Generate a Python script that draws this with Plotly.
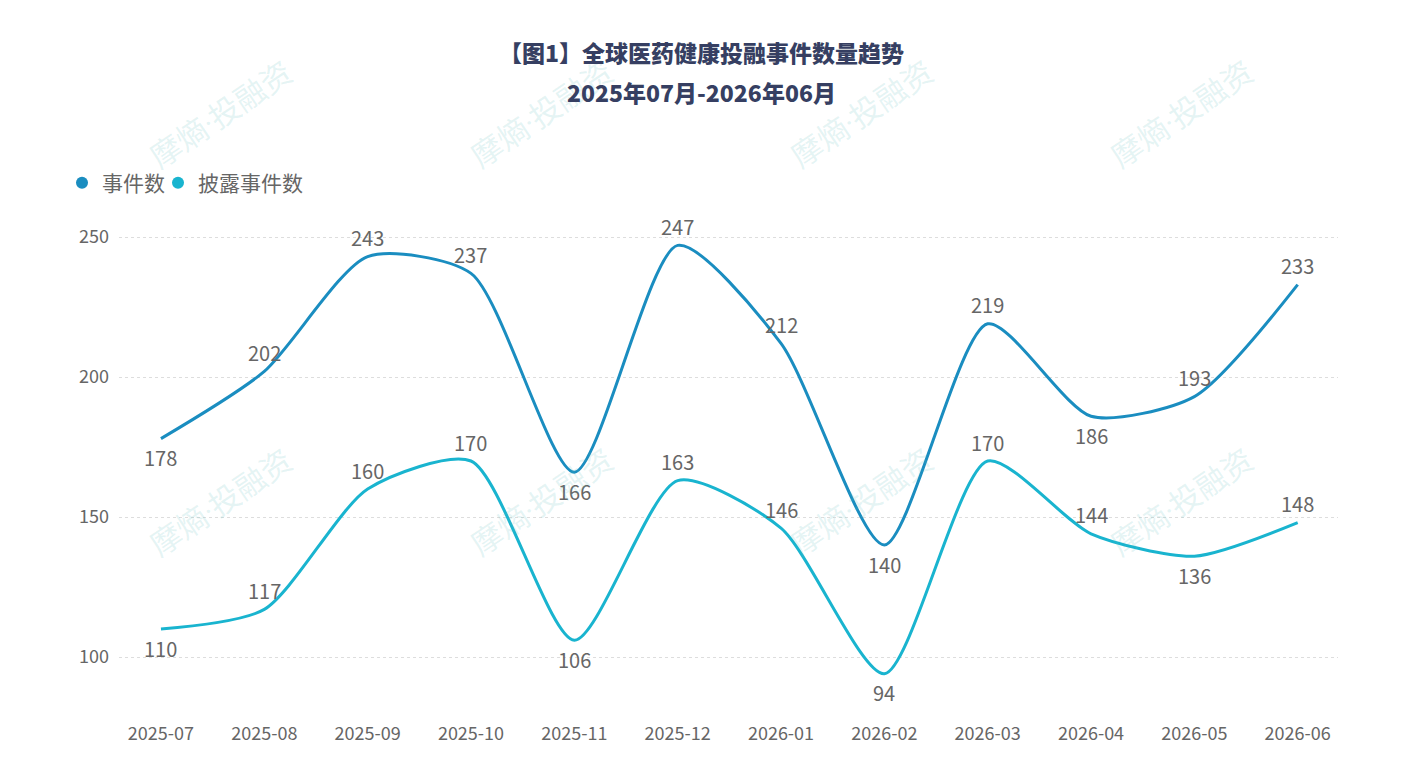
import plotly.graph_objects as go

months = ["2025-07", "2025-08", "2025-09", "2025-10", "2025-11", "2025-12",
          "2026-01", "2026-02", "2026-03", "2026-04", "2026-05", "2026-06"]
events = [178, 202, 243, 237, 166, 247, 212, 140, 219, 186, 193, 233]
disclosed = [110, 117, 160, 170, 106, 163, 146, 94, 170, 144, 136, 148]
events_label_pos = ["b", "t", "t", "t", "b", "t", "t", "b", "t", "b", "t", "t"]
disclosed_label_pos = ["b", "t", "t", "t", "b", "t", "t", "b", "t", "t", "b", "t"]
y_ticks = [100, 150, 200, 250]

C1 = "#1a8dc0"
C2 = "#19b4cf"
LABEL = "#666666"
FONT = "Noto Sans CJK SC, Noto Sans, sans-serif"

xs = list(range(len(months)))

fig = go.Figure()
fig.add_trace(go.Scatter(x=xs, y=events, mode="lines", name="事件数",
                         line=dict(color=C1, width=3, shape="spline", smoothing=0.7),
                         showlegend=False, hoverinfo="y"))
fig.add_trace(go.Scatter(x=xs, y=disclosed, mode="lines", name="披露事件数",
                         line=dict(color=C2, width=3, shape="spline", smoothing=0.7),
                         showlegend=False, hoverinfo="y"))
# legend entries with circle symbols
fig.add_trace(go.Scatter(x=[None], y=[None], mode="markers", name="事件数",
                         marker=dict(color=C1, size=12, symbol="circle"), legend="legend"))
fig.add_trace(go.Scatter(x=[None], y=[None], mode="markers", name="披露事件数",
                         marker=dict(color=C2, size=12, symbol="circle"), legend="legend2"))

annotations = []
for vals, poss in ((events, events_label_pos), (disclosed, disclosed_label_pos)):
    for x, v, p in zip(xs, vals, poss):
        annotations.append(dict(x=x, y=v, xref="x", yref="y", text=str(v),
                                showarrow=False, yshift=19 if p == "t" else -19,
                                font=dict(size=20, color=LABEL, family=FONT)))

# watermarks
WM = '摩熵<span style="font-family:Roboto">·</span>投融资'
for cx in (220, 540, 860, 1180):
    for cy in (112, 500):
        annotations.append(dict(x=cx / 1402, y=1 - cy / 781, xref="paper", yref="paper",
                                xanchor="center", yanchor="middle",
                                text=WM, showarrow=False, textangle=-34,
                                font=dict(size=31, color="rgba(90,190,190,0.17)", family=FONT)))

# title
annotations.append(dict(x=0.5, y=1 - 52 / 781, xref="paper", yref="paper",
                        xanchor="center", yanchor="middle",
                        text="【图1】全球医药健康投融事件数量趋势", showarrow=False,
                        font=dict(size=23, color="#363f62", family=FONT, weight=900)))
annotations.append(dict(x=0.5, y=1 - 92 / 781, xref="paper", yref="paper",
                        xanchor="center", yanchor="middle",
                        text="2025年07月-2026年06月", showarrow=False,
                        font=dict(size=23, color="#363f62", family=FONT, weight=900)))

# recompute paper refs relative to plot area
L, R, T, B = 119, 64, 220, 71
pw, ph = 1402 - L - R, 781 - T - B
for a in annotations:
    if a.get("xref") == "paper":
        px = a["x"] * 1402
        py = (1 - a["y"]) * 781
        a["x"] = (px - L) / pw
        a["y"] = 1 - (py - T) / ph

legend_common = dict(orientation="h", xref="container", yref="container",
                     xanchor="left", yanchor="middle",
                     font=dict(size=21, color=LABEL, family=FONT),
                     itemwidth=30, bgcolor="rgba(0,0,0,0)")

fig.update_layout(
    width=1402, height=781,
    margin=dict(l=L, r=R, t=T, b=B, pad=0),
    paper_bgcolor="white", plot_bgcolor="white",
    font=dict(family=FONT, color=LABEL),
    annotations=annotations,
    legend=dict(x=62 / 1402, y=1 - 183 / 781, **legend_common),
    legend2=dict(x=158 / 1402, y=1 - 183 / 781, **legend_common),
    xaxis=dict(tickmode="array", tickvals=xs, ticktext=months,
               range=[-0.406, 11.39], showgrid=False, zeroline=False,
               showline=False, ticks="", ticklabelstandoff=11,
               tickfont=dict(size=18, color=LABEL, family=FONT)),
    yaxis=dict(tickmode="array", tickvals=y_ticks, range=[81.07, 256.07],
               showgrid=True, gridcolor="#dddddd", griddash="dot", gridwidth=1,
               zeroline=False, showline=False, ticks="", ticklabelstandoff=9,
               tickfont=dict(size=18, color=LABEL, family=FONT)),
    showlegend=True,
)

fig.write_html("out.html")
